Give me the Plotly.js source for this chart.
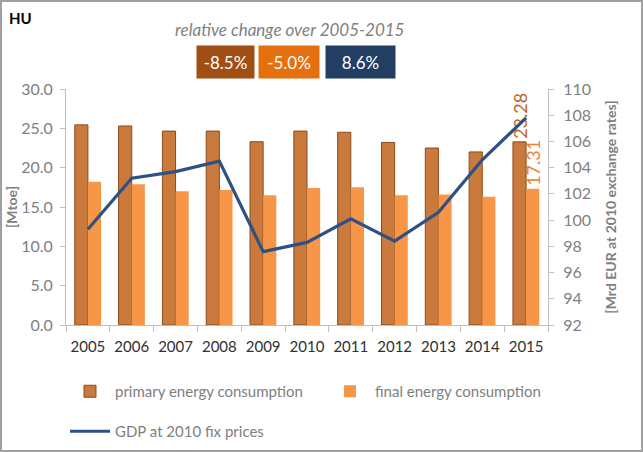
<!DOCTYPE html>
<html><head><meta charset="utf-8">
<script src="https://cdn.plot.ly/plotly-3.0.1.min.js"></script>
<style>
html,body{margin:0;padding:0;background:#fff;}
#wrap{position:relative;width:643px;height:452px;}
#chart{width:643px;height:452px;}
#frame{position:absolute;left:0;top:0;width:643px;height:452px;box-sizing:border-box;border:2px solid #A0A0A0;pointer-events:none;}
</style></head>
<body>
<div id="wrap"><div id="chart"></div><div id="frame"></div></div>
<script>
const years = ['2005','2006','2007','2008','2009','2010','2011','2012','2013','2014','2015'];
const primaryEnergy = [25.44, 25.3, 24.65, 24.65, 23.3, 24.65, 24.5, 23.2, 22.5, 22.0, 23.28];
const finalEnergy = [18.22, 17.9, 17.0, 17.15, 16.5, 17.4, 17.5, 16.5, 16.6, 16.3, 17.31];
const gdp = [99.3, 103.2, 103.7, 104.5, 97.6, 98.3, 100.1, 98.4, 100.6, 104.6, 107.8];
const primaryLabels = ['', '', '', '', '', '', '', '', '', '', '23.28'];
const finalLabels = ['', '', '', '', '', '', '', '', '', '', '17.31'];
const changeLabels = ['-8.5%', '-5.0%', '8.6%'];

const FONT = 'Lato, "Open Sans", sans-serif';
const GREY = '#808080';
const AX = '#BFBFBF';

const traces = [
  {type:'bar', name:'primary energy consumption', x:years, y:primaryEnergy,
   marker:{color:'#C97A3C', line:{color:'#8E4A1C', width:1}},
   text:primaryLabels, textposition:'outside', textangle:-90, constraintext:'none',
   cliponaxis:false, textfont:{family:FONT, size:18, color:'#C0651E'}, legend:'legend'},
  {type:'bar', name:'final energy consumption', x:years, y:finalEnergy,
   marker:{color:'#F79646', line:{color:'#F79646', width:0}},
   text:finalLabels, textposition:'outside', textangle:-90, constraintext:'none',
   cliponaxis:false, textfont:{family:FONT, size:18, color:'#E9822E'}, legend:'legend2'},
  {type:'scatter', mode:'lines', name:'GDP at 2010 fix prices', x:years, y:gdp, yaxis:'y2',
   line:{color:'#2E5183', width:3.2}, legend:'legend3'}
];

const W = 482, H = 236, L = 66, T = 89;
const px = v => (v - L) / W;
const py = v => (T + H - v) / H;

const boxColors = ['#A14E14', '#E4700F', '#233E63'];
const boxX = [225.5, 289, 360.5];
const boxW = [53, 56, 65];
const annotations = [
  {text:'<b>HU</b>', xref:'paper', yref:'paper', x:px(7), y:py(18), xanchor:'left', yanchor:'middle',
   showarrow:false, font:{family:FONT, size:15, color:'#000'}},
  {text:'<i>relative change over 2005-2015</i>', xref:'paper', yref:'paper', x:px(289), y:py(29),
   xanchor:'center', yanchor:'middle', showarrow:false, font:{family:FONT, size:17, color:GREY}}
];
changeLabels.forEach((t,i)=>{
  annotations.push({text:t, xref:'paper', yref:'paper', x:px(boxX[i]), y:py(62),
    xanchor:'center', yanchor:'middle', showarrow:false, width:boxW[i], height:28,
    bgcolor:boxColors[i], borderpad:2, font:{family:FONT, size:17, color:'#fff'}});
});

const legBase = {orientation:'h', xanchor:'left', yanchor:'top', itemwidth:40,
  font:{family:FONT, size:15, color:GREY}, bgcolor:'rgba(0,0,0,0)'};

const layout = {
  width:643, height:452,
  margin:{l:L, r:643-L-W, t:T, b:452-T-H, autoexpand:false},
  paper_bgcolor:'#fff', plot_bgcolor:'#fff',
  font:{family:FONT, color:GREY},
  barmode:'group', bargap:0.4, bargroupgap:0,
  showlegend:true,
  xaxis:{type:'category', showgrid:false, showline:true, linecolor:AX, linewidth:1,
    ticks:'outside', tickson:'boundaries', ticklen:6, tickcolor:AX, ticklabelstandoff:8,
    tickangle:0, tickfont:{family:FONT, size:15, color:'#303030'}, zeroline:false},
  yaxis:{range:[0,30], dtick:5, tickformat:'.1f', showgrid:false, showline:true, linecolor:AX,
    ticks:'outside', ticklen:5, tickcolor:AX, zeroline:false, ticklabelstandoff:4,
    tickfont:{family:FONT, size:16, color:GREY},
    title:{text:'<b>[Mtoe]</b>', font:{family:FONT, size:14, color:GREY}, standoff:0}},
  yaxis2:{range:[92,110], dtick:2, overlaying:'y', side:'right', showgrid:false, showline:true,
    linecolor:AX, ticks:'outside', ticklen:5, tickcolor:AX, zeroline:false, ticklabelstandoff:6,
    tickfont:{family:FONT, size:16, color:GREY},
    title:{text:'<b>[Mrd EUR at 2010 exchange rates]</b>', font:{family:FONT, size:14, color:GREY}, standoff:16}},
  legend:Object.assign({}, legBase, {x:px(65), y:py(375)}),
  legend2:Object.assign({}, legBase, {x:px(325), y:py(375)}),
  legend3:Object.assign({}, legBase, {x:px(65), y:py(415)}),
  annotations:annotations
};

Plotly.newPlot('chart', traces, layout, {displayModeBar:false, staticPlot:true});
</script>
</body></html>
